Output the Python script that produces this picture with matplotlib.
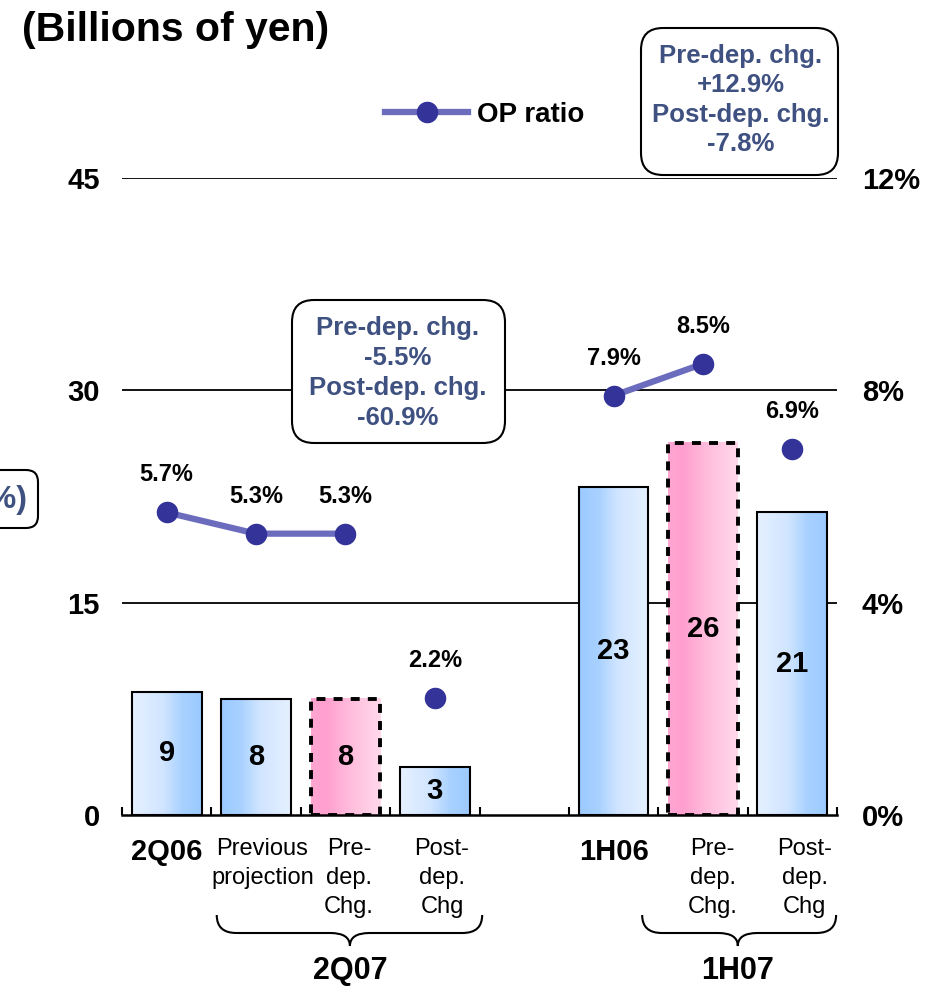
import numpy as np
import matplotlib
matplotlib.use('Agg')
import matplotlib.pyplot as plt
from matplotlib.colors import LinearSegmentedColormap
from matplotlib.patches import FancyBboxPatch, PathPatch
from matplotlib.path import Path
from matplotlib.lines import Line2D
from matplotlib.transforms import blended_transform_factory

plt.rcParams['font.family'] = ['Liberation Sans', 'DejaVu Sans']

# Operating income (billions of yen) and OP ratio (%)
categories = ['2Q06', 'Previous\nprojection', 'Pre-\ndep.\nChg.', 'Post-\ndep.\nChg',
              '1H06', 'Pre-\ndep.\nChg.', 'Post-\ndep.\nChg']
slots = [0, 1, 2, 3, 5, 6, 7]
op_income = [8.7, 8.2, 8.2, 3.4, 23.2, 26.3, 21.4]
op_ratio = [5.7, 5.3, 5.3, 2.2, 7.9, 8.5, 6.9]
line_runs = [[0, 1, 2], [3], [4, 5], [6]]
groups = ['2Q07', '1H07']
box_texts = ['Pre-dep. chg.\n+12.9%\nPost-dep. chg.\n-7.8%',
             'Pre-dep. chg.\n-5.5%\nPost-dep. chg.\n-60.9%']

# styling per bar
bar_kind = ['blue', 'blue', 'pink', 'blue', 'blue', 'pink', 'blue']
dark_left = [False, True, True, False, True, True, False]
bold_cat = [True, False, False, False, True, False, False]
cat_shift = [0, 0.07, 0.04, 0.08, 0, 0.11, 0.14]

TXT = '#3f5181'
blue_cm = LinearSegmentedColormap.from_list(
    'bl', [(0, '#e6f1ff'), (0.45, '#d0e5ff'), (0.72, '#a8d1ff'), (1, '#9bcaff')])
pink_cm = LinearSegmentedColormap.from_list(
    'pk', [(0, '#ffd9eb'), (0.45, '#ffbcdc'), (0.78, '#ff9fcf'), (1, '#ffa6d2')])

fig = plt.figure(figsize=(9.32, 9.91), dpi=100)
ax = fig.add_axes([122 / 932, 1 - 815 / 991, 715 / 932, 637 / 991])
ax.set_xlim(-0.5, 7.5)
ax.set_ylim(0, 45)

# gridlines
for g in [15, 30, 45]:
    ax.axhline(g, color='black', lw=1.3, zorder=0.5)

# bars with horizontal gradient fill
for i, (s, v) in enumerate(zip(slots, op_income)):
    w = 0.78
    x0 = s - w / 2
    grad = np.linspace(0, 1, 256).reshape(1, -1)
    if dark_left[i]:
        grad = grad[:, ::-1]
    cm = blue_cm if bar_kind[i] == 'blue' else pink_cm
    ax.imshow(grad, extent=(x0, x0 + w, 0, v), cmap=cm, aspect='auto',
              zorder=2, interpolation='bilinear')
    if bar_kind[i] == 'blue':
        ax.bar(s, v, width=w, facecolor='none', edgecolor='black', lw=1.5, zorder=3)
    else:
        ax.bar(s, v, width=w, facecolor='none', edgecolor='black', lw=2.8,
               linestyle=(0, (2.3, 2.1)), zorder=3)
    ax.text(s, v / 2, f'{v:.0f}', ha='center', va='center', fontsize=21,
            fontweight='bold', zorder=4)
ax.set_xlim(-0.5, 7.5)
ax.set_ylim(0, 45)

for sp in ['top', 'left', 'right']:
    ax.spines[sp].set_visible(False)
ax.spines['bottom'].set_linewidth(1.8)
ax.set_xticks(np.arange(-0.5, 8, 1))
ax.tick_params(axis='x', direction='in', length=6, width=1.5, labelbottom=False)
ax.set_yticks([0, 15, 30, 45])
ax.tick_params(axis='y', length=0, pad=16, labelsize=21)
for t in ax.get_yticklabels():
    t.set_fontweight('bold')

# OP ratio on the right axis
ax2 = ax.twinx()
ax2.set_ylim(0, 12)
ax2.set_yticks([0, 4, 8, 12])
ax2.set_yticklabels([f'{t}%' for t in [0, 4, 8, 12]])
ax2.tick_params(axis='y', length=0, pad=18, labelsize=21)
for t in ax2.get_yticklabels():
    t.set_fontweight('bold')
for sp in ax2.spines.values():
    sp.set_visible(False)

for run in line_runs:
    xs = [slots[k] for k in run]
    ys = [op_ratio[k] for k in run]
    ax2.plot(xs, ys, color='#6c6cbf', lw=4.5, zorder=3)
    ax2.plot(xs, ys, 'o', color='#333399', ms=14.5, zorder=4)
for s, r in zip(slots, op_ratio):
    ax2.annotate(f'{r}%', (s, r), xytext=(0, 27), textcoords='offset points',
                 ha='center', va='center', fontsize=17, fontweight='bold')

handle = Line2D([], [], color='#6c6cbf', lw=4.5, marker='o', ms=14.5,
                markerfacecolor='#333399', markeredgecolor='#333399')
fig.legend([handle], ['OP ratio'], loc='center left', frameon=False,
           bbox_to_anchor=(385 / 932, 1 - 115 / 991), borderpad=0, borderaxespad=0,
           handlelength=3.0, handletextpad=0.3, numpoints=1,
           prop={'size': 20, 'weight': 'bold'})

# overlay in pixel units for annotations
ov = fig.add_axes([0, 0, 1, 1], zorder=5)
ov.set_xlim(0, 932)
ov.set_ylim(991, 0)
ov.axis('off')

ov.text(22, 30, '(Billions of yen)', ha='left', va='center', fontsize=29.5,
        fontweight='bold')

for (x0, y0, x1, y1), txt, cx, cy, ls in [((641, 28, 838, 175), box_texts[0], 741, 100, 1.27),
                                          ((292, 300, 505, 443), box_texts[1], 398, 373, 1.3)]:
    ov.add_patch(FancyBboxPatch((x0, y0), x1 - x0, y1 - y0,
                                boxstyle='round,pad=0,rounding_size=22',
                                fc='white', ec='black', lw=1.5))
    ov.text(cx, cy, txt, ha='center', va='center', fontsize=18.5, fontweight='bold',
            color=TXT, linespacing=ls)

ov.add_patch(FancyBboxPatch((-40, 470), 78, 58, boxstyle='round,pad=0,rounding_size=12',
                            fc='white', ec='black', lw=1.5))
ov.text(27, 500, '(%)', ha='right', va='center', fontsize=23, fontweight='bold', color=TXT)

# category labels below the axis
cat_tr = blended_transform_factory(ax.transData, ov.transData)
for s, c, b, dx in zip(slots, categories, bold_cat, cat_shift):
    ov.text(s + dx, 838, c, transform=cat_tr, ha='center', va='top',
            fontsize=21 if b else 17, fontweight='bold' if b else 'normal',
            linespacing=1.4)


def brace(x0, x1, xc, ytop, ymid, ybot, r):
    verts = [(x0, ytop), (x0, ymid), (x0 + r, ymid), (xc - r, ymid),
             (xc, ymid), (xc, ybot), (xc, ymid), (xc + r, ymid),
             (x1 - r, ymid), (x1, ymid), (x1, ytop)]
    codes = [Path.MOVETO, Path.CURVE3, Path.CURVE3, Path.LINETO,
             Path.CURVE3, Path.CURVE3, Path.CURVE3, Path.CURVE3,
             Path.LINETO, Path.CURVE3, Path.CURVE3]
    ov.add_patch(PathPatch(Path(verts, codes), transform=cat_tr, fill=False,
                           lw=1.5, color='black'))


brace(0.56, 3.53, 2.05, 915, 933, 946, 0.22)
brace(5.32, 7.49, 6.39, 915, 933, 946, 0.22)
ov.text(2.05, 971, groups[0], transform=cat_tr, ha='center', va='center',
        fontsize=22, fontweight='bold')
ov.text(6.39, 971, groups[1], transform=cat_tr, ha='center', va='center',
        fontsize=22, fontweight='bold')

fig.savefig('out.png', dpi=100)
